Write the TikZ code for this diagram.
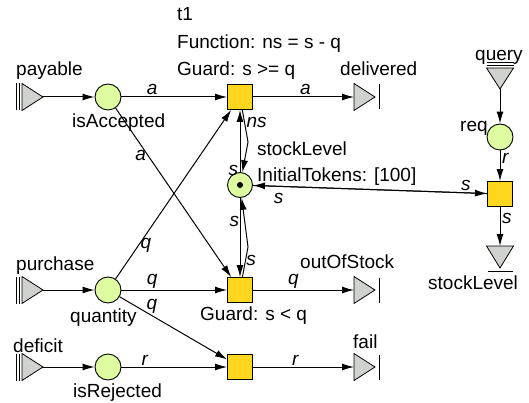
\documentclass[tikz,border=0pt]{standalone}
\usepackage{fontspec}
\setmainfont{Liberation Sans}
\usetikzlibrary{arrows.meta}
\definecolor{placegreen}{RGB}{222,253,160}
\definecolor{transyellow}{RGB}{255,214,30}
\definecolor{portgray}{RGB}{208,210,206}

\tikzset{
  place/.style={circle, draw, fill=placegreen, minimum size=26pt, inner sep=0pt, line width=0.9pt},
  trans/.style={rectangle, draw, fill=transyellow, minimum size=25pt, inner sep=0pt, line width=0.9pt},
  port/.style={draw, fill=portgray, line width=0.8pt, line join=miter},
  bar/.style={line width=0.9pt},
  arc/.style={-{Latex[length=12pt,width=7pt]}, line width=1pt},
  txt/.style={anchor=base west, inner sep=0pt},
  lbl/.style={font=\itshape, inner sep=1.5pt},
}

\begin{document}
\fontsize{19}{23}\selectfont
\begin{tikzpicture}[x=1pt, y=-1pt]
    \useasboundingbox (0,0) rectangle (529,403);

    % places
    \node[place] (isAcc) at (108,97) {};
    \node[place] (quantity) at (108,290) {};
    \node[place] (isRej) at (108,367) {};
    \node[place, minimum size=25pt] (stock) at (240,185) {};
    \node[place] (req) at (500,137) {};
    \fill (stock) circle (3pt);

    % transitions
    \node[trans] (t1) at (240,97) {};
    \node[trans] (tLow) at (240,290) {};
    \node[trans] (tFail) at (240,367) {};
    \node[trans] (tQuery) at (500,194) {};

    % input ports (apex points)
    \coordinate (payable) at (43,97);
    \coordinate (purchase) at (43,290);
    \coordinate (deficit) at (43,367);
    \coordinate (query) at (500,89);
    \foreach \p in {payable, purchase, deficit} {
        \draw[port] (\p) -- ++(-21,-13.5) -- ++(0,27) -- cycle;
        \draw[bar] ([xshift=-24pt,yshift=13.5pt]\p) -- ([xshift=-24pt,yshift=-13.5pt]\p);
        \draw[bar] ([xshift=-27pt,yshift=13.5pt]\p) -- ([xshift=-27pt,yshift=-13.5pt]\p);
    }
    \draw[port] (query) -- ++(-13.5,-21) -- ++(27,0) -- cycle;
    \draw[bar] ([yshift=24pt,xshift=-13.5pt]query) -- ([yshift=24pt,xshift=13.5pt]query);
    \draw[bar] ([yshift=27pt,xshift=-13.5pt]query) -- ([yshift=27pt,xshift=13.5pt]query);

    % output ports (base points)
    \coordinate (delivered) at (354,97);
    \coordinate (outOfStock) at (354,290);
    \coordinate (fail) at (354,367);
    \coordinate (stockOut) at (500,246);
    \foreach \p in {delivered, outOfStock, fail} {
        \draw[port] (\p) -- ++(0,-13.5) -- ++(21,13.5) -- ++(-21,13.5) -- cycle;
        \draw[bar] ([xshift=25pt,yshift=12.5pt]\p) -- ([xshift=25pt,yshift=-12.5pt]\p);
    }
    \draw[port] (stockOut) -- ++(-13.5,0) -- ++(13.5,22) -- ++(13.5,-22) -- cycle;
    \draw[bar] ([yshift=-25pt,xshift=-12.5pt]stockOut) -- ([yshift=-25pt,xshift=12.5pt]stockOut);

    % texts
    \node[txt] (t1Name) at (177,21) {t1};
    \node[txt] (t1Fun) at (177,48.5) {Function: ns = s - q};
    \node[txt] (t1Guard) at (177,76) {Guard: s >= q};
    \node[txt] (tLowGuard) at (200,320) {Guard: s < q};
    \node[txt] (payableTxt) at (16,76) {payable};
    \node[txt] (isAccTxt) at (72,128) {isAccepted};
    \node[txt] (purchaseTxt) at (16,270) {purchase};
    \node[txt] (quantityTxt) at (70,322) {quantity};
    \node[txt] (deficitTxt) at (13,352) {deficit};
    \node[txt] (isRejTxt) at (73,397) {isRejected};
    \node[txt] (deliveredTxt) at (340,76) {delivered};
    \node[txt] (outOfStockTxt) at (300,268) {outOfStock};
    \node[txt] (failTxt) at (353,348) {fail};
    \node[txt] (queryTxt) at (475,61) {query};
    \node[txt] (reqTxt) at (460,132) {req};
    \node[txt] (stockTxt) at (257,156) {stockLevel};
    \node[txt] (stockInit) at (257,182) {InitialTokens: [100]};
    \node[txt] (stockOutTxt) at (428,289) {stockLevel};

    % bend points
    \coordinate (bendUp) at (248,142);
    \coordinate (bendDown) at (248,247);

    % arcs
    \draw[arc] (payable) -- (isAcc);
    \draw[arc] (purchase) -- (quantity);
    \draw[arc] (deficit) -- (isRej);
    \draw[arc] (isAcc) -- node[lbl, pos=.29, above] {a} (t1);
    \draw[arc] (t1) -- node[lbl, pos=.52, above] {a} (delivered);
    \draw[arc] (isAcc) -- node[lbl, pos=.28, left] {a} (tLow);
    \draw[arc] (quantity) -- node[lbl, pos=.2, right] {q} (t1);
    \draw[arc] (quantity) -- node[lbl, pos=.29, above] {q} (tLow);
    \draw[arc] (quantity) -- node[lbl, pos=.3, above] {q} (tFail);
    \draw[arc] (isRej) -- node[lbl, pos=.22, above] {r} (tFail);
    \draw[arc] (tLow) -- node[lbl, pos=.4, above] {q} (outOfStock);
    \draw[arc] (tFail) -- node[lbl, pos=.42, above] {r} (fail);
    \draw[arc] (t1) -- node[lbl, pos=.4, right] {ns} (bendUp) -- (stock);
    \draw[arc] (stock.north) -- node[lbl, pos=.02, left] {s} (t1.south);
    \draw[arc] (stock.south) -- node[lbl, pos=.3, left, inner sep=.5pt] {s} (tLow.north);
    \draw[arc] (tLow) -- node[lbl, pos=.54, right, inner sep=.5pt] {s} (bendDown) -- (stock);
    \draw[arc] (stock) -- node[lbl, pos=.91, above] {s} (tQuery);
    \draw[arc] (tQuery) -- node[lbl, pos=.89, below, inner sep=6pt] {s} (stock);
    \draw[arc] (query) -- (req);
    \draw[arc] (req) -- node[lbl, pos=.26, right] {r} (tQuery);
    \draw[arc] (tQuery) -- node[lbl, pos=.3, right] {s} (stockOut);
\end{tikzpicture}
\end{document}
